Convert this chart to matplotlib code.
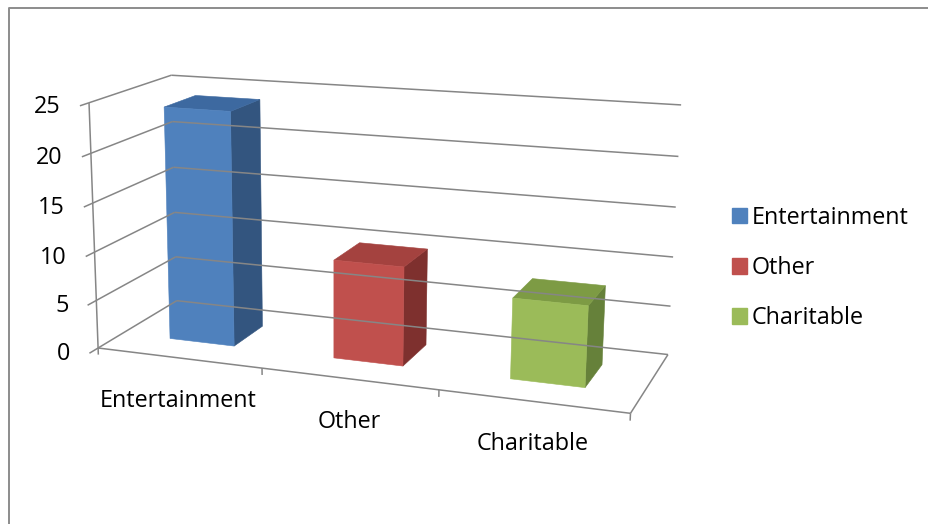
import numpy as np
import matplotlib
matplotlib.use("Agg")
import matplotlib.pyplot as plt
from matplotlib.patches import Polygon, Patch

# data
categories = ["Entertainment", "Other", "Charitable"]
values = [24, 10, 8]
y_ticks = [0, 5, 10, 15, 20, 25]
y_max = 25

front_colors = ["#4F81BD", "#C0504D", "#9BBB59"]
top_colors = ["#3D69A0", "#A4423F", "#7D9B44"]
side_colors = ["#33557F", "#7E302E", "#66813A"]
line_color = "#868686"

# box corners in (category, value, depth) and where they land on the canvas (px)
frame_world = np.array([
    [0, 0, 0], [0, 25, 0], [0, 25, 1], [0, 0, 1],
    [3, 25, 1], [3, 0, 1], [3, 0, 0],
    [1, 0, 0], [2, 0, 0],
    [0, 20, 0], [0, 15, 0], [0, 10, 0], [0, 5, 0],
    [3, 20, 1], [3, 15, 1], [3, 10, 1], [3, 5, 1],
], dtype=float)
frame_px = np.array([
    [99, 348], [88, 103], [173, 75], [175, 301],
    [681, 105], [668, 354], [631, 413],
    [262, 369], [438, 390],
    [90, 153], [92, 203], [95, 252], [98, 300],
    [678, 157], [676, 207], [673, 257], [671, 306],
], dtype=float)

gap_x = 0.3     # side gap inside each category slot
gap_z = 0.3     # gap in front of / behind the columns


def fit_camera(world, px):
    # plain DLT, last element fixed to 1
    rows, rhs = [], []
    for (X, Y, Z), (u, v) in zip(world, px):
        rows.append([X, Y, Z, 1, 0, 0, 0, 0, -u * X, -u * Y, -u * Z])
        rhs.append(u)
        rows.append([0, 0, 0, 0, X, Y, Z, 1, -v * X, -v * Y, -v * Z])
        rhs.append(v)
    p, *_ = np.linalg.lstsq(np.array(rows), np.array(rhs), rcond=None)
    return np.append(p, 1.0).reshape(3, 4)


P = fit_camera(frame_world, frame_px)


def proj(pts):
    pts = np.atleast_2d(np.asarray(pts, dtype=float))
    h = np.c_[pts, np.ones(len(pts))] @ P.T
    return h[:, :2] / h[:, 2:]


def line3d(ax, a, b, **kw):
    q = proj([a, b])
    ax.plot(q[:, 0], q[:, 1], color=line_color, lw=1.1, solid_capstyle="butt", **kw)


plt.rcParams["font.family"] = ["Open Sans", "DejaVu Sans"]
fs = 16.8

fig = plt.figure(figsize=(9.29, 5.24), dpi=100)
ax = fig.add_axes([0, 0, 1, 1])
ax.set_xlim(0, 929)
ax.set_ylim(524, 0)
ax.axis("off")

# chart area border (only left and top fall inside the canvas)
ax.plot([9, 9, 929], [524, 8, 8], color="#8C8C8C", lw=1.4)

ncat = len(categories)

# gridlines on the left and back walls
for t in y_ticks:
    line3d(ax, (0, t, 0), (0, t, 1))
    line3d(ax, (0, t, 1), (ncat, t, 1))
    # tick mark and label on the front value axis
    line3d(ax, (0, t, -0.1), (0, t, 0))
    q = proj([(0, t, -0.1)])[0]
    ax.text(q[0] - 19, q[1] + 1, str(t), ha="right", va="center", fontsize=fs)

# front value axis, floor front and right edges
line3d(ax, (0, 0, 0), (0, y_max, 0))
line3d(ax, (0, 0, 0), (ncat, 0, 0))
line3d(ax, (ncat, 0, 0), (ncat, 0, 1))
for i in range(ncat + 1):
    line3d(ax, (i, -0.7, 0), (i, 0, 0))

# columns
for i, v in enumerate(values):
    x0, x1 = i + gap_x, i + 1 - gap_x
    z0, z1 = gap_z, 1 - gap_z
    front = [(x0, 0, z0), (x1, 0, z0), (x1, v, z0), (x0, v, z0)]
    side = [(x1, 0, z0), (x1, 0, z1), (x1, v, z1), (x1, v, z0)]
    top = [(x0, v, z0), (x1, v, z0), (x1, v, z1), (x0, v, z1)]
    for face, col in ((side, side_colors[i]), (top, top_colors[i]), (front, front_colors[i])):
        ax.add_patch(Polygon(proj(face), closed=True, facecolor=col, edgecolor=col, lw=0.4))

# category labels under the floor
for i, name in enumerate(categories):
    q = proj([(i + 0.5, 0, 0)])[0]
    ax.text(q[0], q[1] + 43, name, ha="center", va="center", fontsize=fs)

handles = [Patch(facecolor=c, edgecolor=c) for c in front_colors]
ax.legend(handles, categories, loc="center left", bbox_to_anchor=(732 / 929, 1 - 268 / 524),
          frameon=False, fontsize=fs, handlelength=0.64, handleheight=0.64,
          handletextpad=0.2, labelspacing=1.12, borderaxespad=0, borderpad=0)

fig.savefig("out.png", dpi=100)
